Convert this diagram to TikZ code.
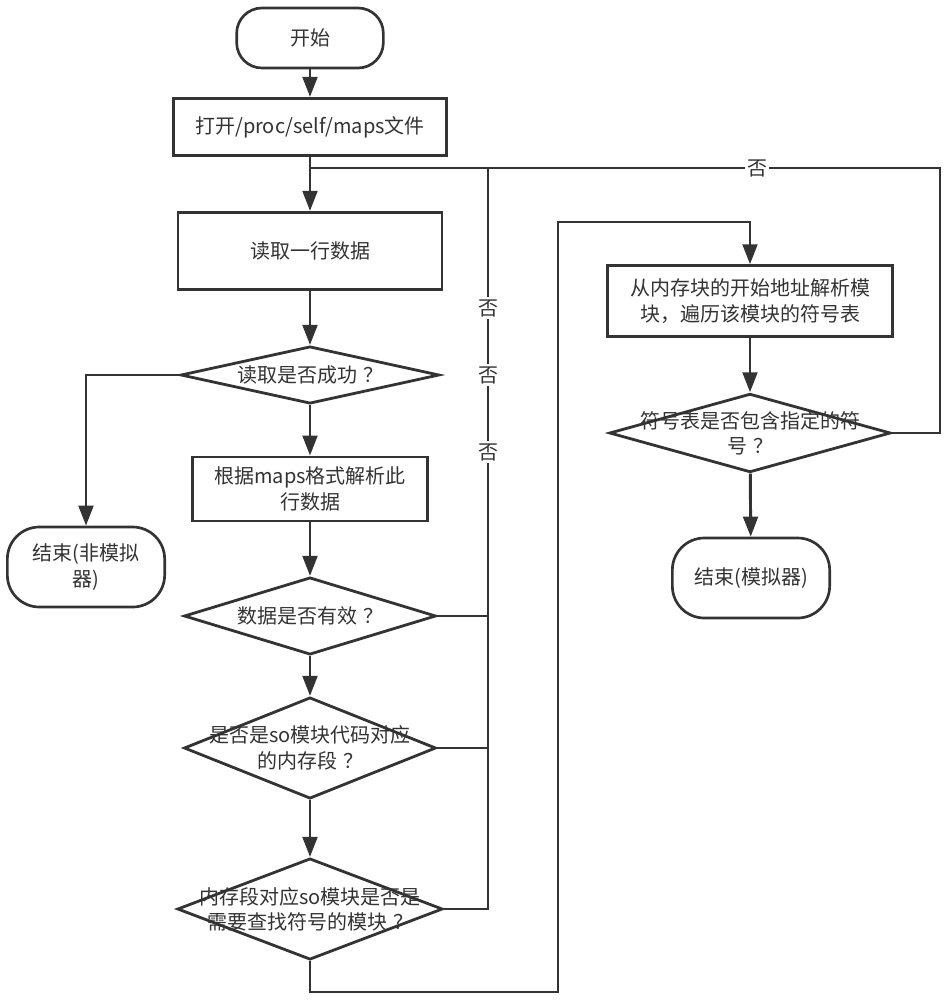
\documentclass[tikz,border=0pt]{standalone}
\usepackage{fontspec}
\setmainfont{Noto Sans CJK SC}
\usetikzlibrary{arrows.meta,shapes.geometric}
\definecolor{linegray}{HTML}{333333}
\newcommand{\qm}{\kern0.3em？}

\begin{document}
\begin{tikzpicture}[
    x=0.75pt, y=-0.75pt,
    font=\fontsize{15pt}{19pt}\selectfont,
    color=linegray, line width=2.2pt,
    terminal/.style={draw,rounded corners=19pt,fill=white,align=center,
      line width=2pt},
    process/.style={draw,fill=white,align=center,line width=2.1pt},
    decision/.style={draw,diamond,inner sep=0pt,fill=white,line width=2.1pt},
    dlabel/.style={align=center,inner sep=0pt},
    flow/.style={-{Triangle[length=15pt,width=11pt]}},
    nolabel/.style={fill=white,inner sep=1.5pt},
  ]
    \useasboundingbox (0,0) rectangle (947,1000);

    % main column
    \node[terminal,minimum width=110pt,minimum height=45pt] (start) at (310,38) {开始};
    \node[process,minimum width=205pt,minimum height=43pt] (openf) at (310,127) {打开/proc/self/maps文件};
    \node[process,minimum width=198pt,minimum height=58pt] (readl) at (310,251) {读取一行数据};
    \node[decision,minimum width=194pt,minimum height=43pt,
      label={[dlabel]center:读取是否成功\qm}] (readok) at (310,375) {};
    \node[terminal,rounded corners=24pt,minimum width=118pt,minimum height=60pt] (endsim0) at (86,567) {结束(非模拟\\器)};
    \node[process,minimum width=176pt,minimum height=48pt] (parse) at (310,489) {根据maps格式解析此\\行数据};
    \node[decision,minimum width=189pt,minimum height=58pt,
      label={[dlabel]center:数据是否有效\qm}] (valid) at (310,616) {};
    \node[decision,minimum width=189pt,minimum height=76pt,
      label={[dlabel]center:{是否是so模块代码对应\\的内存段\qm}}] (isso) at (310,748) {};
    \node[decision,minimum width=199pt,minimum height=76pt,
      label={[dlabel]center:{内存段对应so模块是否是\\需要查找符号的模块\qm}}] (needso) at (310,909) {};

    % right column
    \node[process,minimum width=214pt,minimum height=53pt] (parsemod) at (750,301) {从内存块的开始地址解析模\\块，遍历该模块的符号表};
    \node[decision,minimum width=211pt,minimum height=59pt,
      label={[dlabel]center:{符号表是否包含指定的符\\号\qm}}] (hassym) at (750,433) {};
    \node[terminal,rounded corners=24pt,minimum width=118pt,minimum height=60pt] (endsim1) at (751,578) {结束(模拟器)};

    \coordinate (loopin) at (310,168);
    \coordinate (nojoin) at (488,168);
    \coordinate (backtop) at (940,168);
    \coordinate (loopbot) at (558,992);
    \coordinate (looptop) at (558,222);

    \draw[flow] (start) -- (openf);
    \draw[flow] (openf) -- (readl);
    \draw[flow] (readl) -- (readok);
    \draw[flow] (readok.west) -| (endsim0.north);
    \draw[flow] (readok) -- (parse);
    \draw[flow] (parse) -- (valid);
    \draw[flow] (valid) -- (isso);
    \draw[flow] (isso) -- (needso);

    % "no" branches back to the read step
    \draw (valid.east) -- (valid.east -| nojoin);
    \draw (isso.east) -- (isso.east -| nojoin);
    \draw (needso.east) -| (nojoin);
    \draw (hassym.east) -| (backtop) -- (loopin);

    \draw[flow] (needso.south) |- (loopbot) -- (looptop) -| (parsemod.north);
    \draw[flow] (parsemod) -- (hassym);
    \draw[flow] (hassym) -- (endsim1);

    \node[nolabel] (no1) at (488,308) {否};
    \node[nolabel] (no2) at (488,375) {否};
    \node[nolabel] (no3) at (488,452) {否};
    \node[nolabel] (no4) at (757,168) {否};
  \end{tikzpicture}
\end{document}
